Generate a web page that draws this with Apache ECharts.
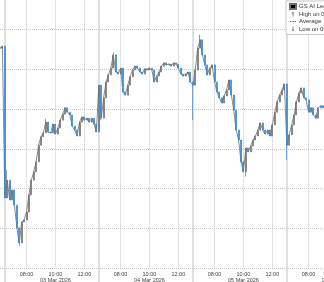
<!DOCTYPE html>
<html><head><meta charset="utf-8">
<script src="https://cdn.jsdelivr.net/npm/echarts@6/dist/echarts.min.js"></script>
<style>html,body{margin:0;padding:0;background:#fff;overflow:hidden}#c{width:324px;height:282px}</style>
</head><body><div id="c"></div>
<script>
const days = ['02 Mar 2026', '03 Mar 2026', '04 Mar 2026', '05 Mar 2026', '06 Mar 2026'];
const sessionTimes = ['06:30','06:40','06:50','07:00','07:10','07:20','07:30','07:40','07:50','08:00',
  '08:10','08:20','08:30','08:40','08:50','09:00','09:10','09:20','09:30','09:40',
  '09:50','10:00','10:10','10:20','10:30','10:40','10:50','11:00','11:10','11:20',
  '11:30','11:40','11:50','12:00','12:10','12:20','12:30','12:40','12:50'];
const tickTimes = ['08:00', '10:00', '12:00'];
const dateLabelTime = '10:00';
const sessionOpen = '06:30';

// 10-minute closes
const close02 = [99.53, 99.58];
const close03 = [95.76, 96.21, 95.71, 95.96, 95.58, 95.01, 94.63, 95.16, 95.21, 95.41,
  95.84, 96.21, 96.42, 96.67, 97.09, 97.30, 97.40, 97.67, 97.42, 97.40,
  97.62, 97.37, 97.52, 97.72, 97.87, 98.03, 97.92, 97.85, 97.57, 97.47,
  97.32, 97.67, 97.80, 97.72, 97.77, 97.67, 97.77, 97.62, 97.42];
const close04 = [98.60, 97.77, 98.28, 98.68, 98.86, 99.03, 99.36, 98.93, 98.88, 99.03,
  98.43, 98.35, 98.60, 98.81, 98.98, 99.08, 99.03, 98.93, 98.88, 99.01,
  98.98, 99.03, 98.98, 98.68, 98.83, 98.93, 99.08, 99.16, 99.11, 99.13,
  99.08, 99.16, 99.13, 99.03, 98.88, 98.83, 98.88, 98.93, 98.68];
const close05 = [98.60, 98.98, 99.53, 99.74, 99.36, 99.11, 98.86, 99.03, 99.11, 98.68,
  98.43, 98.28, 98.15, 98.33, 98.48, 98.73, 98.35, 97.97, 97.47, 97.22,
  96.67, 96.42, 97.02, 96.92, 97.07, 97.22, 97.32, 97.47, 97.65, 97.47,
  97.37, 97.47, 97.32, 97.60, 97.92, 98.18, 98.35, 98.48, 98.63];
const close06 = [97.09, 97.35, 97.60, 97.85, 98.18, 98.40, 98.53, 98.28, 98.23, 97.92,
  98.03, 97.85, 97.77, 98.03, 98.08, 98.03, 98.13];
// visible wicks beyond the bodies: [bar index, value]
const wickLows = [[8, 94.55], [42, 97.72], [80, 97.72], [119, 96.72], [102, 96.30]];
const wickHighs = [[3, 96.47], [47, 99.42], [83, 99.87], [19, 97.75]];

const seriesName = 'GS AI Leaders';
const highName = 'High on 03/05/26';
const avgName = 'Average';
const lowName = 'Low on 03/03/26';

// build categories (unique keys "day|time")
const cats = [];
sessionTimes.slice(sessionTimes.length - close02.length).forEach(t => cats.push(days[0] + '|' + t));
for (let d = 1; d < days.length; d++) sessionTimes.forEach(t => cats.push(days[d] + '|' + t));

const closes = [].concat(close02, close03, close04, close05, close06);
const candles = closes.map((c, i) => {
  const o = i === 0 ? c : closes[i - 1];
  return [o, c, Math.min(o, c), Math.max(o, c)];
});
wickLows.forEach(([i, v]) => { candles[i][2] = Math.min(candles[i][2], v); });
wickHighs.forEach(([i, v]) => { candles[i][3] = Math.max(candles[i][3], v); });

const timeOf = v => v.split('|')[1];
const dayOf = v => v.split('|')[0];

const step = 94 / sessionTimes.length;
const gridW = step * (cats.length - 1);

const chart = echarts.init(document.getElementById('c'), null, {renderer: 'canvas'});
chart.setOption({
  animation: false,
  backgroundColor: '#ffffff',
  grid: {left: 0, top: -10.25, width: gridW, height: 278.25, containLabel: false, outerBoundsMode: 'none'},
  legend: {
    orient: 'vertical', left: 286, top: 1,
    backgroundColor: '#ffffff', borderColor: '#c8c8c8', borderWidth: 1,
    padding: [2, 3, 2, 3], itemGap: 0.5, itemWidth: 6, itemHeight: 5,
    selectedMode: false,
    textStyle: {fontSize: 6, color: '#333', fontFamily: 'Liberation Sans', lineHeight: 7, padding: [0, 0, 0, -2]},
    data: [
      {name: seriesName, icon: 'rect', itemStyle: {color: '#000'}},
      {name: highName, icon: 'path://M4,0 L7,4 L5,4 L5,10 L3,10 L3,4 L1,4 Z', itemStyle: {color: '#888'}},
      {name: avgName, icon: 'path://M0,4 h3 v2 h-3 Z M5,4 h3 v2 h-3 Z M10,4 h3 v2 h-3 Z', itemStyle: {color: '#666'}},
      {name: lowName, icon: 'path://M3,0 L5,0 L5,6 L7,6 L4,10 L1,6 L3,6 Z', itemStyle: {color: '#888'}}
    ]
  },
  xAxis: [{
    type: 'category', data: cats, boundaryGap: false, position: 'bottom',
    axisLine: {show: false}, axisTick: {show: false},
    axisLabel: {
      interval: (i, v) => tickTimes.includes(timeOf(v)),
      margin: 3, fontSize: 5.5, color: '#444', fontFamily: 'Liberation Sans', lineHeight: 6.5,
      formatter: v => timeOf(v) === dateLabelTime ? timeOf(v) + '\n' + dayOf(v) : timeOf(v)
    },
    splitLine: {show: true, interval: (i, v) => tickTimes.includes(timeOf(v)),
      lineStyle: {type: 'dotted', color: '#c4c4c4', width: 1}}
  }, {
    type: 'category', data: cats, boundaryGap: false, position: 'bottom', gridIndex: 0,
    axisLine: {show: false}, axisLabel: {show: false},
    axisTick: {show: true, interval: (i, v) => timeOf(v) === sessionOpen, length: 14, inside: false,
      lineStyle: {color: '#d6d6d6', width: 1.5}},
    splitLine: {show: true, interval: (i, v) => timeOf(v) === sessionOpen,
      lineStyle: {type: 'solid', color: '#d6d6d6', width: 1.5}}
  }],
  yAxis: {
    type: 'value', min: 94, max: 101, interval: 1, position: 'right',
    axisLine: {show: false}, axisTick: {show: false}, axisLabel: {show: false},
    splitLine: {show: true, lineStyle: {type: 'dotted', color: '#c4c4c4', width: 1}}
  },
  series: [{
    name: seriesName + ' path', type: 'line', xAxisIndex: 0, data: closes, showSymbol: false,
    lineStyle: {color: '#8a8a8a', width: 1}, z: 1, silent: true
  }, {
    name: seriesName, type: 'candlestick', xAxisIndex: 0, data: candles, barWidth: 1.5, z: 2,
    itemStyle: {color: '#808080', color0: '#3686cf', borderColor: '#707070', borderColor0: '#3686cf', borderWidth: 0.7}
  },
  {name: highName, type: 'line', data: []},
  {name: avgName, type: 'line', data: []},
  {name: lowName, type: 'line', data: []}]
});
</script></body></html>
